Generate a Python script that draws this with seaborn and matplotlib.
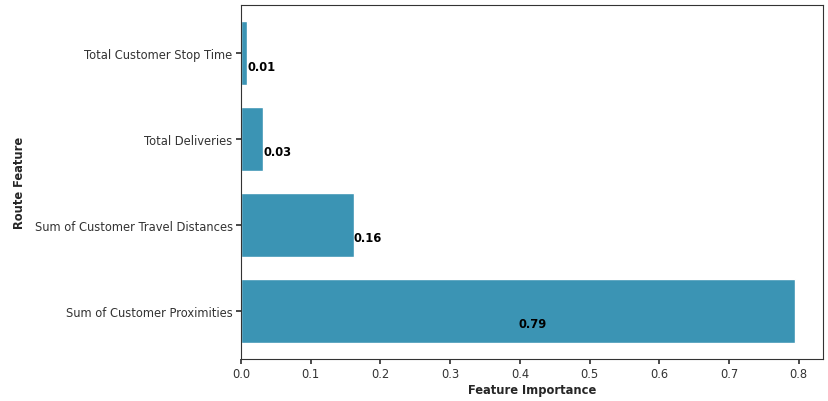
import matplotlib
matplotlib.use("Agg")
import matplotlib.pyplot as plt
import seaborn as sns
import pandas as pd

# top-to-bottom order as shown
features = [
    "Total Customer Stop Time",
    "Total Deliveries",
    "Sum of Customer Travel Distances",
    "Sum of Customer Proximities",
]
importance = [0.009, 0.032, 0.162, 0.795]
labels = ["0.01", "0.03", "0.16", "0.79"]

df = pd.DataFrame({"feature": features, "importance": importance})

sns.set_theme(style="ticks")
plt.rcParams["font.family"] = ["DejaVu Sans"]

fig, ax = plt.subplots(figsize=(8.29, 4.02), dpi=100)
fig.subplots_adjust(left=0.2907, right=0.9928, top=0.985, bottom=0.1045)

sns.barplot(data=df, x="importance", y="feature", orient="h",
            color="#3b94b4", saturation=1, width=0.75, ax=ax)

ax.set_xlim(0, max(importance) * 1.05)
ax.set_ylim(3.5625, -0.5625)

# value labels: at bar end, or mid-bar for the long one
for i, (v, lab) in enumerate(zip(importance, labels)):
    x = v / 2 if v > 0.5 else v
    ax.text(x, i + 0.15, lab, ha="left", va="center",
            fontsize=8.3, fontweight="bold", color="black")

ax.set_xlabel("Feature Importance", fontsize=8.3, fontweight="bold", labelpad=2)
ax.set_ylabel("Route Feature", fontsize=8.3, fontweight="bold", labelpad=6)
ax.tick_params(axis="both", labelsize=8.3, colors="#333333", length=3.5, pad=2.5)
for s in ax.spines.values():
    s.set_color("#333333")
    s.set_linewidth(0.8)

fig.savefig("out.png", dpi=100)
